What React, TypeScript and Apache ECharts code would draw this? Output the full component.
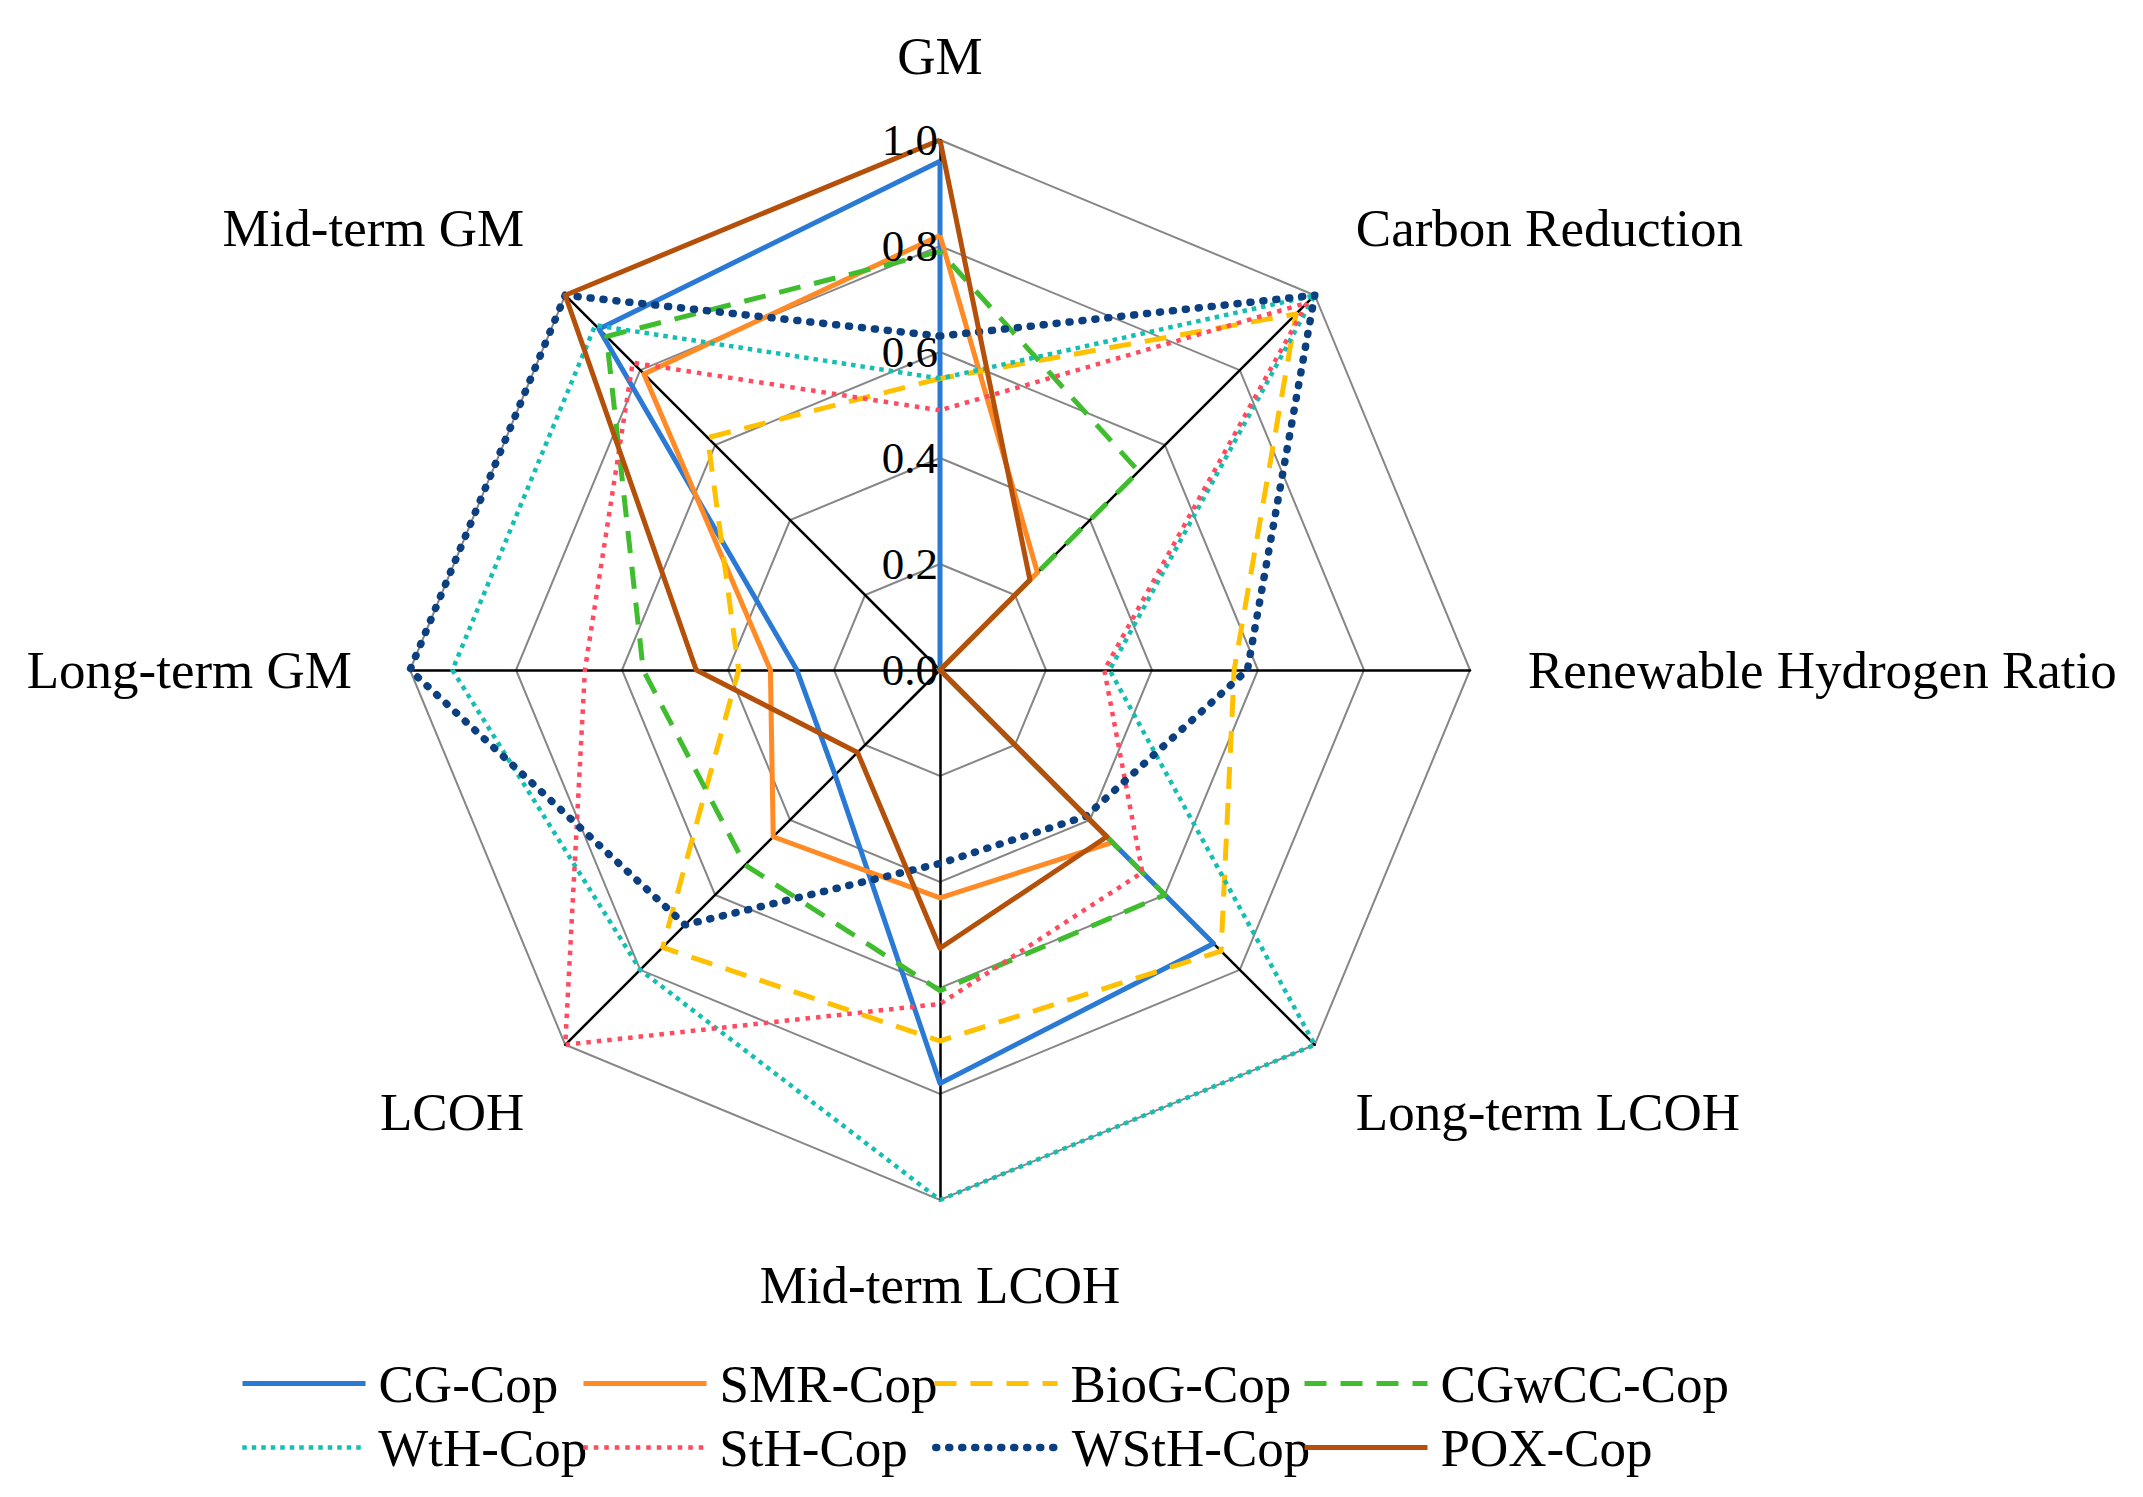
import React, { useEffect, useRef } from 'react';
import * as echarts from 'echarts';

// Indicators in clockwise order starting from the top
const indicatorNames = ['GM', 'Carbon Reduction', 'Renewable Hydrogen Ratio', 'Long-term LCOH', 'Mid-term LCOH', 'LCOH', 'Long-term GM', 'Mid-term GM'];
const tickValues = [0, 0.2, 0.4, 0.6, 0.8, 1.0];

const seriesNames = ['CG-Cop', 'SMR-Cop', 'BioG-Cop', 'CGwCC-Cop', 'WtH-Cop', 'StH-Cop', 'WStH-Cop', 'POX-Cop'];
// values in clockwise order (same as indicatorNames)
const cgCop = [0.96, 0, 0, 0.73, 0.78, 0.28, 0.27, 0.91];
const smrCop = [0.82, 0.26, 0, 0.46, 0.43, 0.445, 0.32, 0.79];
const biogCop = [0.55, 0.95, 0.555, 0.75, 0.70, 0.74, 0.38, 0.62];
const cgwccCop = [0.79, 0.53, 0, 0.60, 0.605, 0.52, 0.56, 0.89];
const wthCop = [0.55, 1.0, 0.32, 1.0, 1.0, 0.80, 0.92, 0.92];
const sthCop = [0.49, 0.98, 0.31, 0.54, 0.63, 1.0, 0.67, 0.82];
const wsthCop = [0.63, 1.0, 0.58, 0.39, 0.365, 0.68, 1.0, 1.0];
const poxCop = [1.0, 0.24, 0, 0.445, 0.525, 0.22, 0.46, 1.0];
const seriesValues = [cgCop, smrCop, biogCop, cgwccCop, wthCop, sthCop, wsthCop, poxCop];

const FONT = '"Liberation Serif", "Times New Roman", serif';

const lineStyles: any[] = [
  { color: '#2A7AD5', width: 5, type: 'solid' },
  { color: '#FF8A26', width: 5, type: 'solid' },
  { color: '#FFC000', width: 5, type: [22, 14] },
  { color: '#3FBD2E', width: 5, type: [22, 14] },
  { color: '#14BFB1', width: 4.5, type: [4.5, 5] },
  { color: '#FF4A60', width: 4.5, type: [4.5, 6] },
  { color: '#0B3F80', width: 7.5, type: [1, 12], cap: 'round' },
  { color: '#B4500A', width: 5, type: 'solid' },
];

// ECharts radar goes counter-clockwise; reorder clockwise data
const ccwOrder = [0, 7, 6, 5, 4, 3, 2, 1];
const upperDiag = ['Carbon Reduction', 'Mid-term GM'];
const lowerDiag = ['Long-term LCOH', 'LCOH'];

const legendCols = [240, 581, 932, 1302];
const legendRows = [1357, 1421];

export default function App() {
  const ref = useRef<HTMLDivElement>(null);
  useEffect(() => {
    if (!ref.current) return;
    const chart = echarts.init(ref.current, null, { renderer: 'svg' });
    const cx = 940, cy = 670, r = 530;
    const nameText = { color: '#000', fontSize: 53, fontFamily: FONT };
    const option: any = {
      animation: false,
      backgroundColor: '#ffffff',
      radar: {
        center: [cx, cy],
        radius: r,
        startAngle: 90,
        shape: 'polygon',
        splitNumber: 5,
        indicator: ccwOrder.map((i) => ({ name: indicatorNames[i], min: 0, max: 1 })),
        nameGap: 58,
        axisName: {
          ...nameText,
          formatter: (n: string) =>
            upperDiag.includes(n) ? `{up|${n}}` : lowerDiag.includes(n) ? `{down|${n}}` : `{n|${n}}`,
          rich: {
            up: { ...nameText, padding: [0, 0, 52, 0] },
            down: { ...nameText, padding: [52, 0, 0, 0] },
            n: { ...nameText },
          },
        },
        axisLine: { lineStyle: { color: '#000', width: 2.5 } },
        splitLine: { lineStyle: { color: '#868686', width: 2 } },
        splitArea: { show: false },
        axisTick: { show: false },
        axisLabel: { show: false },
      },
      polar: { center: [cx, cy], radius: r },
      angleAxis: { show: false, startAngle: 90, min: 0, max: 360 },
      radiusAxis: {
        min: tickValues[0],
        max: tickValues[tickValues.length - 1],
        interval: 0.2,
        axisLine: { show: false },
        axisTick: { show: false },
        splitLine: { show: false },
        z: 10,
        axisLabel: {
          formatter: (v: number) => v.toFixed(1),
          color: '#000',
          fontSize: 45,
          fontFamily: FONT,
          margin: 2,
        },
      },
      legend: seriesNames.map((n, i) => ({
        data: [n],
        left: legendCols[i % 4],
        top: legendRows[Math.floor(i / 4)],
        padding: 0,
        itemWidth: 123,
        itemHeight: 20,
        selectedMode: false,
        itemStyle: { opacity: 0 },
        lineStyle: { ...lineStyles[i] },
        textStyle: { color: '#000', fontSize: 53, fontFamily: FONT, padding: [0, 0, 0, 8] },
      })),
      series: [
        ...seriesNames.map((n, i) => ({
          type: 'line',
          name: n,
          coordinateSystem: 'polar',
          data: [],
          symbol: 'none',
          color: lineStyles[i].color,
          lineStyle: lineStyles[i],
        })),
        ...seriesNames.map((n, i) => ({
          type: 'radar',
          symbol: 'none',
          z: 3 + i * 0.01,
          lineStyle: lineStyles[i],
          itemStyle: { color: lineStyles[i].color },
          data: [
            {
              name: n,
              value: ccwOrder.map((k) => seriesValues[i][k]),
              lineStyle: lineStyles[i],
            },
          ],
        })),
      ],
    };
    chart.setOption(option);
    return () => chart.dispose();
  }, []);
  return (
    <div
      ref={ref}
      style={{ position: 'fixed', left: 0, top: 0, width: 2143, height: 1497, background: '#fff' }}
    />
  );
}
